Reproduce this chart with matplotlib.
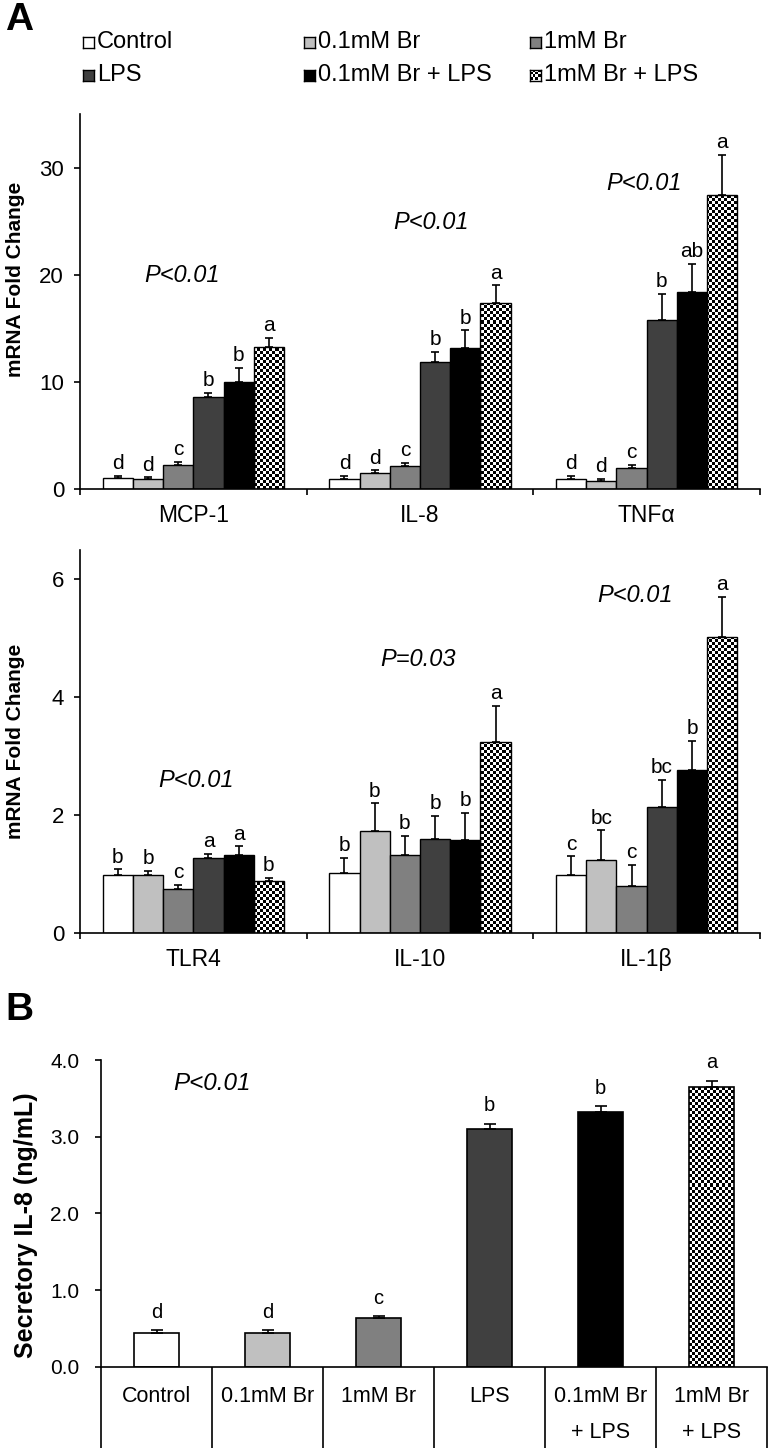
import numpy as np
import matplotlib
matplotlib.use("Agg")
import matplotlib.pyplot as plt
from matplotlib.colors import ListedColormap
from matplotlib import transforms

plt.rcParams['font.family'] = ['Liberation Sans', 'DejaVu Sans']

# ---------------- data ----------------
treatments = ['Control', '0.1mM Br', '1mM Br', 'LPS', '0.1mM Br + LPS', '1mM Br + LPS']
b_labels_1 = ['Control', '0.1mM Br', '1mM Br', 'LPS', '0.1mM Br', '1mM Br']
b_labels_2 = ['', '', '', '', '+ LPS', '+ LPS']
colors = ['#ffffff', '#c0c0c0', '#808080', '#404040', '#000000', 'checker']

genes_top = ['MCP-1', 'IL-8', 'TNFα']
top_vals = {
    'MCP-1': [1.0, 0.9, 2.2, 8.55, 10.0, 13.25],
    'IL-8': [0.96, 1.49, 2.17, 11.9, 13.2, 17.4],
    'TNFα': [0.93, 0.71, 1.96, 15.8, 18.4, 27.4],
}
top_errs = {
    'MCP-1': [0.2, 0.18, 0.3, 0.45, 1.3, 0.85],
    'IL-8': [0.25, 0.25, 0.28, 0.9, 1.6, 1.6],
    'TNFα': [0.28, 0.22, 0.3, 2.4, 2.6, 3.8],
}
top_letters = {
    'MCP-1': ['d', 'd', 'c', 'b', 'b', 'a'],
    'IL-8': ['d', 'd', 'c', 'b', 'b', 'a'],
    'TNFα': ['d', 'd', 'c', 'b', 'ab', 'a'],
}
top_p = ['P<0.01', 'P<0.01', 'P<0.01']
top_p_pos = [(0.45, 19.9), (1.55, 24.9), (2.49, 28.5)]

genes_mid = ['TLR4', 'IL-10', 'IL-1β']
mid_vals = {
    'TLR4': [0.99, 0.98, 0.75, 1.28, 1.32, 0.88],
    'IL-10': [1.01, 1.73, 1.33, 1.59, 1.58, 3.24],
    'IL-1β': [0.99, 1.24, 0.79, 2.14, 2.77, 5.03],
}
mid_errs = {
    'TLR4': [0.09, 0.08, 0.06, 0.06, 0.15, 0.05],
    'IL-10': [0.27, 0.47, 0.32, 0.40, 0.46, 0.61],
    'IL-1β': [0.31, 0.50, 0.36, 0.46, 0.49, 0.68],
}
mid_letters = {
    'TLR4': ['b', 'b', 'c', 'a', 'a', 'b'],
    'IL-10': ['b', 'b', 'b', 'b', 'b', 'a'],
    'IL-1β': ['c', 'bc', 'c', 'bc', 'b', 'a'],
}
mid_p = ['P<0.01', 'P=0.03', 'P<0.01']
mid_p_pos = [(0.51, 2.59), (1.49, 4.64), (2.45, 5.73)]

b_vals = [0.435, 0.443, 0.63, 3.10, 3.32, 3.65]
b_errs = [0.04, 0.035, 0.03, 0.07, 0.08, 0.08]
b_letters = ['d', 'd', 'c', 'b', 'b', 'a']
b_p = 'P<0.01'
b_p_pos = (1.0, 3.70)

# ---------------- figure ----------------
W, H = 769, 1448
fig = plt.figure(figsize=(W / 100, H / 100), dpi=100)
checker_cmap = ListedColormap(['white', 'black'])
CELL = 3


def add_checker(ax, patch, rect):
    wpx = rect[2] * W
    hpx = rect[3] * H
    nx, ny = int(round(wpx / CELL)), int(round(hpx / CELL))
    arr = np.indices((ny, nx)).sum(axis=0) % 2
    im = ax.imshow(arr, cmap=checker_cmap, extent=(0, 1, 0, 1), transform=ax.transAxes,
                   interpolation='nearest', aspect='auto', zorder=1.5, origin='lower')
    im.set_clip_path(patch)


def style_axes(ax, lw=1.2, labelsize=16, pad=7):
    for s in ['top', 'right']:
        ax.spines[s].set_visible(False)
    for s in ['left', 'bottom']:
        ax.spines[s].set_linewidth(lw)
    ax.tick_params(axis='y', direction='out', length=4.5, width=lw, labelsize=labelsize, pad=pad)


def fig_rect(left_px, top_px, right_px, bottom_px):
    return [left_px / W, 1 - bottom_px / H, (right_px - left_px) / W, (bottom_px - top_px) / H]


def grouped_panel(rect, genes, vals, errs, letters, pvals, ppos, ymax, yticks, ylab_y):
    ax = fig.add_axes(rect)
    style_axes(ax)
    bw = 0.8 / 6
    for gi, g in enumerate(genes):
        for j in range(6):
            x = gi + 0.5 + (j - 2.5) * bw
            v, e = vals[g][j], errs[g][j]
            if colors[j] == 'checker':
                bars = ax.bar(x, v, bw, facecolor='none', edgecolor='black', linewidth=1.0, zorder=2)
                add_checker(ax, bars[0], rect)
            else:
                ax.bar(x, v, bw, color=colors[j], edgecolor='black', linewidth=1.0, zorder=2)
            ax.errorbar(x, v, yerr=[[0], [e]], fmt='none', ecolor='black', elinewidth=1.2,
                        capsize=3, capthick=1.2, zorder=3)
            ax.annotate(letters[g][j], (x, v + e), xytext=(0, 2), textcoords='offset points',
                        ha='center', va='bottom', fontsize=15)
        ax.text(ppos[gi][0], ppos[gi][1], pvals[gi], ha='center', va='center',
                fontsize=17, style='italic')
    ax.set_xlim(0, 3)
    ax.set_ylim(0, ymax)
    ax.set_yticks(yticks)
    ax.set_xticks([0, 1, 2, 3])
    ax.set_xticklabels([])
    ax.set_xticks([0.5, 1.5, 2.5], minor=True)
    ax.set_xticklabels(genes, minor=True, fontsize=16.5)
    ax.tick_params(axis='x', which='major', direction='out', length=4, width=1.2)
    ax.tick_params(axis='x', which='minor', length=0, pad=11)
    ax.set_ylabel('mRNA Fold Change', fontsize=15, fontweight='bold')
    ax.yaxis.set_label_coords(-0.081, ylab_y)
    return ax


grouped_panel(fig_rect(80, 114, 760, 489), genes_top, top_vals, top_errs, top_letters,
              top_p, top_p_pos, 35, [0, 10, 20, 30], 0.56)
grouped_panel(fig_rect(80, 550, 760, 933), genes_mid, mid_vals, mid_errs, mid_letters,
              mid_p, mid_p_pos, 6.5, [0, 2, 4, 6], 0.5)

# ---------------- panel B ----------------
rectB = fig_rect(101, 1060, 767, 1366.7)
axb = fig.add_axes(rectB)
style_axes(axb, labelsize=15, pad=11)
for i in range(6):
    x = i + 0.5
    if colors[i] == 'checker':
        bars = axb.bar(x, b_vals[i], 0.4, facecolor='none', edgecolor='black', linewidth=1.2, zorder=2)
        add_checker(axb, bars[0], rectB)
    else:
        axb.bar(x, b_vals[i], 0.4, color=colors[i], edgecolor='black', linewidth=1.2, zorder=2)
    axb.errorbar(x, b_vals[i], yerr=[[0], [b_errs[i]]], fmt='none', ecolor='black',
                 elinewidth=1.2, capsize=4, capthick=1.2, zorder=3)
    axb.annotate(b_letters[i], (x, b_vals[i] + b_errs[i]), xytext=(0, 6), textcoords='offset points',
                 ha='center', va='bottom', fontsize=14.5)
axb.text(b_p_pos[0], b_p_pos[1], b_p, ha='center', va='center', fontsize=17.5, style='italic')
axb.set_xlim(0, 6)
axb.set_ylim(0, 4)
axb.set_yticks([0, 1, 2, 3, 4])
axb.set_yticklabels(['0.0', '1.0', '2.0', '3.0', '4.0'])
axb.set_xticks(range(7))
axb.set_xticklabels([])
axb.tick_params(axis='x', direction='out', length=(H - 1366.7) / 100 * 72, width=1.2)
btrans = transforms.blended_transform_factory(axb.transData, fig.transFigure)
for i in range(6):
    axb.text(i + 0.5, 1 - 1397 / H, b_labels_1[i], transform=btrans, ha='center', va='center', fontsize=15.5)
    if b_labels_2[i]:
        axb.text(i + 0.5, 1 - 1433 / H, b_labels_2[i], transform=btrans, ha='center', va='center', fontsize=15.5)
axb.set_ylabel('Secretory IL-8 (ng/mL)', fontsize=18, fontweight='bold')
axb.yaxis.set_label_coords(-0.095, 0.462)

# ---------------- legend ----------------
leg_cols = [83, 304, 530]
leg_rows = [42, 75]
sq = 11
for k, name in enumerate(treatments):
    r, c = divmod(k, 3)
    x0, yc = leg_cols[c], leg_rows[r]
    lrect = [x0 / W, 1 - (yc + sq / 2) / H, sq / W, sq / H]
    lax = fig.add_axes(lrect)
    lax.set_xticks([]); lax.set_yticks([])
    for s in lax.spines.values():
        s.set_linewidth(1.0)
    if colors[k] == 'checker':
        arr = np.indices((4, 4)).sum(axis=0) % 2
        lax.imshow(arr, cmap=checker_cmap, interpolation='nearest', aspect='auto')
    else:
        lax.set_facecolor(colors[k])
    fig.text((x0 + sq + 3) / W, 1 - yc / H, name, ha='left', va='center', fontsize=17)

# panel letters
fig.text(5 / W, 1 - 20 / H, 'A', fontsize=28, fontweight='bold', ha='left', va='center')
fig.text(5 / W, 1 - 1010 / H, 'B', fontsize=28, fontweight='bold', ha='left', va='center')

fig.savefig('out.png', dpi=100)
